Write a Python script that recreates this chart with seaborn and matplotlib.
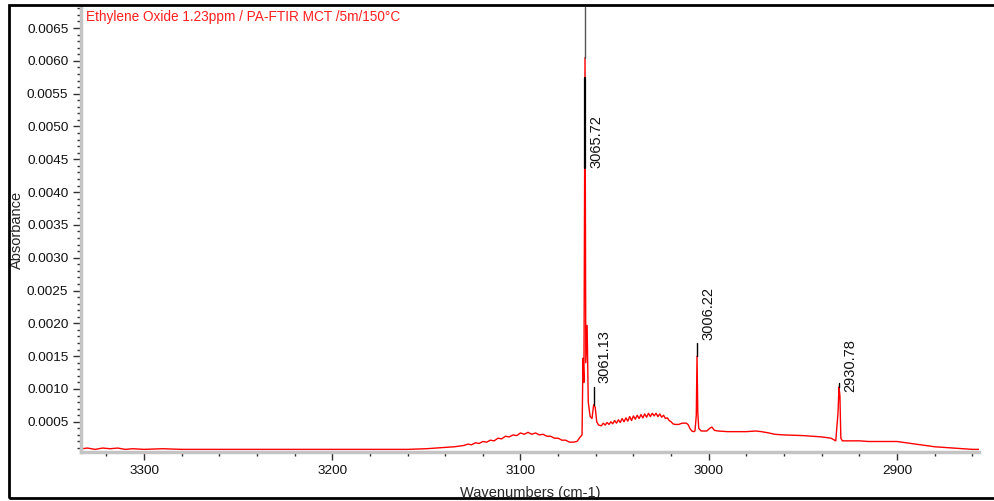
import matplotlib
matplotlib.use("Agg")
import matplotlib.pyplot as plt
import seaborn as sns
from matplotlib.patches import Rectangle
from matplotlib.ticker import MultipleLocator

# ---------------- data ----------------
wavenumber = [
    3333, 3330, 3326, 3322, 3318, 3314, 3310, 3306, 3300, 3290, 3280, 3270, 3250,
    3220, 3200, 3180, 3160, 3150, 3145, 3140, 3135,
    3130, 3128, 3126, 3124, 3122, 3120, 3118, 3116, 3114, 3112, 3110, 3108, 3106,
    3104, 3102, 3100, 3098, 3096, 3094, 3092, 3090, 3088, 3086, 3084, 3082, 3080,
    3078, 3076, 3074, 3072, 3070, 3068.5, 3067.3,
    3066.8, 3066.3, 3065.72, 3065.3, 3064.6, 3064.0, 3063.0, 3062.0, 3061.13,
    3060.3, 3059.5, 3058.5,
    3057, 3056, 3055, 3054, 3053, 3052, 3051, 3050, 3049, 3048, 3047, 3046, 3045,
    3044, 3043, 3042, 3041, 3040, 3039, 3038, 3037, 3036, 3035, 3034, 3033, 3032,
    3031, 3030, 3029, 3028, 3027, 3026, 3025, 3024, 3023, 3022, 3021, 3020, 3019,
    3018, 3016, 3014, 3012, 3011, 3010, 3009, 3008, 3007.3,
    3006.6, 3006.22, 3005.8, 3005.3, 3004, 3001, 2999.5, 2998.3, 2997, 2995,
    2990, 2985, 2980, 2975, 2972, 2968, 2965, 2960, 2950, 2945, 2940, 2935,
    2932.5, 2931.3, 2930.78, 2930.3, 2929.8, 2929, 2925, 2920, 2915, 2910, 2905,
    2900, 2895, 2890, 2885, 2880, 2875, 2870, 2865, 2860, 2856,
]
absorbance = [
    0.00009, 0.00010, 0.00008, 0.00010, 0.00009, 0.00010, 0.00008, 0.00009, 0.00008,
    0.00009, 0.00008, 0.00008, 0.00008, 0.00008, 0.00008, 0.00008, 0.00008, 0.00009,
    0.00010, 0.00011, 0.00012,
    0.00014, 0.00016, 0.00015, 0.00018, 0.00017, 0.00020, 0.00019, 0.00022, 0.00021,
    0.00025, 0.00024, 0.00028, 0.00027, 0.00030, 0.00029, 0.00033, 0.00031, 0.00034,
    0.00031, 0.00033, 0.00030, 0.00031, 0.00028, 0.00028, 0.00025, 0.00025, 0.00022,
    0.00022, 0.00019, 0.00019, 0.00020, 0.00026, 0.00030,
    0.00147, 0.00110, 0.00605, 0.00140, 0.00197, 0.00080, 0.00058, 0.00055, 0.00076,
    0.00072, 0.00050, 0.00045,
    0.00044, 0.00048, 0.00045, 0.00049, 0.00046, 0.00050, 0.00047, 0.00052, 0.00048,
    0.00053, 0.00049, 0.00055, 0.00050, 0.00056, 0.00051, 0.00058, 0.00052, 0.00059,
    0.00054, 0.00060, 0.00055, 0.00061, 0.00056, 0.00062, 0.00057, 0.00063, 0.00058,
    0.00063, 0.00059, 0.00063, 0.00058, 0.00062, 0.00057, 0.00060, 0.00055, 0.00056,
    0.00052, 0.00050, 0.00047, 0.00046, 0.00046, 0.00048, 0.00048, 0.00046, 0.00040,
    0.00036, 0.00035, 0.00036,
    0.00060, 0.00150, 0.00064, 0.00040, 0.00036, 0.00036, 0.00040, 0.00042, 0.00037,
    0.00036, 0.00035, 0.00035, 0.00035, 0.00036, 0.00035, 0.00033, 0.00031, 0.00030,
    0.00029, 0.00028, 0.00027, 0.00025, 0.00021, 0.00064, 0.00103, 0.00090, 0.00025,
    0.00021, 0.00021, 0.00021, 0.00020, 0.00020, 0.00020, 0.00020, 0.00018, 0.00016,
    0.00014, 0.00012, 0.00011, 0.00010, 0.00009, 0.00008, 0.00008,
]

peak_labels = ["3065.72", "3061.13", "3006.22", "2930.78"]
peak_wn = [3065.72, 3061.13, 3006.22, 2930.78]
peak_top = [0.00605, 0.00076, 0.00150, 0.00103]
leader_top = [0.00574, 0.00103, 0.00170, 0.00109]
label_bottom = [0.00436, 0.00109, 0.00175, 0.00096]

x_ticks = [3300, 3200, 3100, 3000, 2900]
y_ticks = [0.0005, 0.0010, 0.0015, 0.0020, 0.0025, 0.0030, 0.0035, 0.0040,
           0.0045, 0.0050, 0.0055, 0.0060, 0.0065]

title = "Ethylene Oxide 1.23ppm / PA-FTIR MCT /5m/150°C"

# ---------------- style ----------------
sns.set_style("white")
plt.rcParams["font.family"] = ["Liberation Sans", "DejaVu Sans"]
plt.rcParams["font.size"] = 9.5

fig = plt.figure(figsize=(9.95, 5.01), dpi=100)
ax = fig.add_axes([81 / 995, 1 - 452 / 501, (979 - 81) / 995, (452 - 7) / 501])

sns.lineplot(x=wavenumber, y=absorbance, ax=ax, color="#ff0000", linewidth=1.0,
             estimator=None, sort=True)

ax.set_xlim(3333.5, 2856.4)
ax.set_ylim(0.00004, 0.00682)

ax.set_xticks(x_ticks)
ax.set_xticklabels([str(v) for v in x_ticks])
ax.xaxis.set_minor_locator(MultipleLocator(20))
ax.set_yticks(y_ticks)
ax.set_yticklabels([f"{v:.4f}" for v in y_ticks])
ax.yaxis.set_minor_locator(MultipleLocator(0.0001))

ax.tick_params(which="major", direction="out", length=6, width=1, color="#303030",
               labelsize=9.7, labelcolor="#111111", pad=3)
ax.tick_params(which="minor", direction="out", length=3, width=1, color="#303030")
ax.tick_params(axis="x", which="both", bottom=True)
ax.tick_params(axis="y", which="both", left=True)

for side in ["top", "right"]:
    ax.spines[side].set_visible(False)
for side in ["left", "bottom"]:
    ax.spines[side].set_color("#c4c4c4")
    ax.spines[side].set_linewidth(2.5)

ax.set_ylabel("Absorbance", fontsize=10.5, labelpad=2)
ax.set_xlabel("Wavenumbers (cm-1)", fontsize=10.5, labelpad=7)

# peak annotations
ax.plot([peak_wn[0], peak_wn[0]], [peak_top[0], 0.00682], color="#555555",
        linewidth=1.0, zorder=3)
for lbl, wn, top, ltop, lb in zip(peak_labels, peak_wn, peak_top, leader_top,
                                  label_bottom):
    ax.plot([wn, wn], [min(top, lb) if lbl == peak_labels[0] else top, ltop],
            color="black", linewidth=1.6 if lbl == peak_labels[0] else 1.0,
            zorder=3)
    ax.annotate(lbl, xy=(wn, lb), xytext=(8, 0), textcoords="offset points",
                rotation=90, ha="center", va="bottom", fontsize=10.5,
                color="#111111")

fig.text(86 / 995, 1 - 17 / 501, title, color="#ff2020", fontsize=9.8,
         ha="left", va="center")

fig.add_artist(Rectangle((9 / 995, 3 / 501), (1000 - 9) / 995, (498 - 5) / 501,
                         transform=fig.transFigure, fill=False,
                         edgecolor="black", linewidth=2))

fig.savefig("out.png", dpi=100)
